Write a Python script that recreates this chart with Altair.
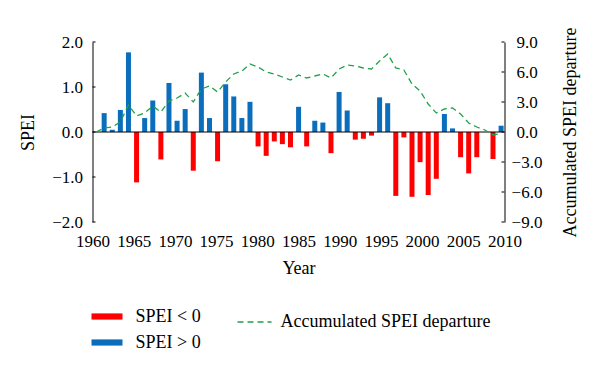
import altair as alt
import pandas as pd

FONT = "Liberation Serif"

years = list(range(1961, 2011))
spei = [0.42, 0.05, 0.49, 1.77, -1.12, 0.31, 0.70, -0.61, 1.09, 0.25,
        0.51, -0.86, 1.32, 0.31, -0.65, 1.06, 0.79, 0.31, 0.67, -0.32,
        -0.53, -0.21, -0.27, -0.34, 0.56, -0.32, 0.25, 0.21, -0.47, 0.89,
        0.48, -0.17, -0.15, -0.08, 0.77, 0.64, -1.42, -0.12, -1.44, -0.67,
        -1.40, -1.04, 0.40, 0.08, -0.56, -0.92, -0.56, 0.00, -0.60, 0.14]

acc_years = list(range(1960, 2011))
acc = [0.0, 0.4, 0.5, 1.0, 2.7, 1.6, 1.9, 2.6, 2.0, 3.1,
       3.4, 3.9, 3.0, 4.3, 4.6, 4.0, 5.0, 5.8, 6.1, 6.8,
       6.5, 6.0, 5.8, 5.5, 5.2, 5.7, 5.4, 5.6, 5.8, 5.4,
       6.3, 6.7, 6.6, 6.4, 6.3, 7.1, 7.8, 6.4, 6.2, 4.8,
       4.1, 2.8, 1.9, 2.3, 2.4, 1.8, 0.9, 0.5, 0.2, -0.3, -0.15]

sign_labels = ["SPEI < 0", "SPEI > 0"]
line_label = ["Accumulated SPEI departure"]
x_ticks = [1960, 1965, 1970, 1975, 1980, 1985, 1990, 1995, 2000, 2005, 2010]
left_ticks = [-2.0, -1.0, 0.0, 1.0, 2.0]
right_ticks = [-9.0, -6.0, -3.0, 0.0, 3.0, 6.0, 9.0]
zero = [0.0]

RED = "#FF0000"
BLUE = "#0A6EBD"
GREEN = "#22A04B"

W, H = 412, 180

bars_df = pd.DataFrame({"year": years, "spei": spei})
bars_df["sign"] = [sign_labels[0] if v < 0 else sign_labels[1] for v in spei]
acc_df = pd.DataFrame({"year": acc_years, "acc": acc, "series": line_label[0]})

# data positions (bars sit slightly inside the labelled year range, as in the source)
data_x = alt.Scale(domain=[1959.56, 2010.42], nice=False, zero=False, padding=0)
# labelled axis
label_x = alt.Scale(domain=[1960, 2010], nice=False, zero=False, padding=0)
x_axis = alt.Axis(values=x_ticks, format="d", tickSize=0, domain=False, grid=False,
                  labelPadding=11, labelFlush=False, labelOverlap=False,
                  title="Year", titleX=W / 2, titleY=46, titleBaseline="middle",
                  titleAlign="center")

left_scale = alt.Scale(domain=[-2, 2], nice=False)
left_axis = alt.Axis(values=left_ticks, format=".1f", tickSize=0, labelPadding=10,
                     grid=False, domainColor="black", title="SPEI",
                     titleAngle=270, titleX=-64, titleY=H / 2,
                     titleBaseline="middle", titleAlign="center")
right_scale = alt.Scale(domain=[-9, 9], nice=False)
right_axis = alt.Axis(orient="right", values=right_ticks, format=".1f", tickSize=0,
                      labelPadding=22, labelAlign="center", grid=False,
                      domainColor="black", title="Accumulated SPEI departure",
                      titleAngle=270, titleX=65.5, titleY=H / 2,
                      titleBaseline="middle", titleAlign="center")

bars = alt.Chart(bars_df).mark_bar(size=5).encode(
    x=alt.X("year:Q", scale=data_x, axis=None),
    y=alt.Y("spei:Q", scale=left_scale, axis=left_axis, title="SPEI"),
    color=alt.Color("sign:N", scale=alt.Scale(domain=sign_labels, range=[RED, BLUE]),
                    legend=alt.Legend(title=None, orient="none", legendX=-1, legendY=259,
                                      symbolType="M-1,-0.2H1V0.2H-1Z", symbolSize=961,
                                      symbolStrokeWidth=0, labelOffset=13, rowPadding=1,
                                      padding=0, direction="vertical", labelLimit=0)),
)

zero_rule = alt.Chart(pd.DataFrame({"z": zero})).mark_rule(color="black", strokeWidth=1).encode(
    y=alt.Y("z:Q", scale=left_scale, axis=left_axis, title="SPEI")
)

lt = alt.Chart(pd.DataFrame({"v": left_ticks})).mark_rule(color="black", strokeWidth=1).encode(
    y=alt.Y("v:Q", scale=left_scale, axis=left_axis, title="SPEI"),
    x=alt.value(0), x2=alt.value(3)
)

line = alt.Chart(acc_df).mark_line(color=GREEN, strokeWidth=1.3).encode(
    x=alt.X("year:Q", scale=data_x, axis=None),
    y=alt.Y("acc:Q", scale=right_scale, axis=right_axis, title="Accumulated SPEI departure"),
    strokeDash=alt.StrokeDash("series:N", scale=alt.Scale(domain=line_label, range=[[6, 4]]),
                              legend=alt.Legend(title=None, orient="none", legendX=144,
                                                legendY=262, symbolType="stroke",
                                                symbolSize=1156, symbolStrokeColor=GREEN,
                                                symbolStrokeWidth=1.3, labelOffset=8,
                                                padding=0, labelLimit=0)),
)

rt = alt.Chart(pd.DataFrame({"v": right_ticks})).mark_rule(color="black", strokeWidth=1).encode(
    y=alt.Y("v:Q", scale=right_scale, axis=right_axis, title="Accumulated SPEI departure"),
    x=alt.value(W - 3), x2=alt.value(W)
)

year_axis = alt.Chart(pd.DataFrame({"t": x_ticks})).mark_rule(opacity=0).encode(
    x=alt.X("t:Q", scale=label_x, axis=x_axis)
)

left = alt.layer(bars, zero_rule, lt)
right = alt.layer(line, rt)

chart = alt.layer(left, right, year_axis).resolve_scale(y="independent", x="independent").properties(
    width=W, height=H,
    autosize=alt.AutoSizeParams(type="none"),
    padding={"left": 84.5, "top": 34, "right": 87.5, "bottom": 138},
).configure_view(stroke=None).configure_axis(
    labelFont=FONT, titleFont=FONT, labelFontSize=17, titleFontSize=18,
    labelColor="black", titleColor="black", titleFontWeight="normal",
).configure_legend(
    labelFont=FONT, labelFontSize=18, labelColor="black",
)

chart.save("out.html", embed_options={"renderer": "svg", "actions": False})
